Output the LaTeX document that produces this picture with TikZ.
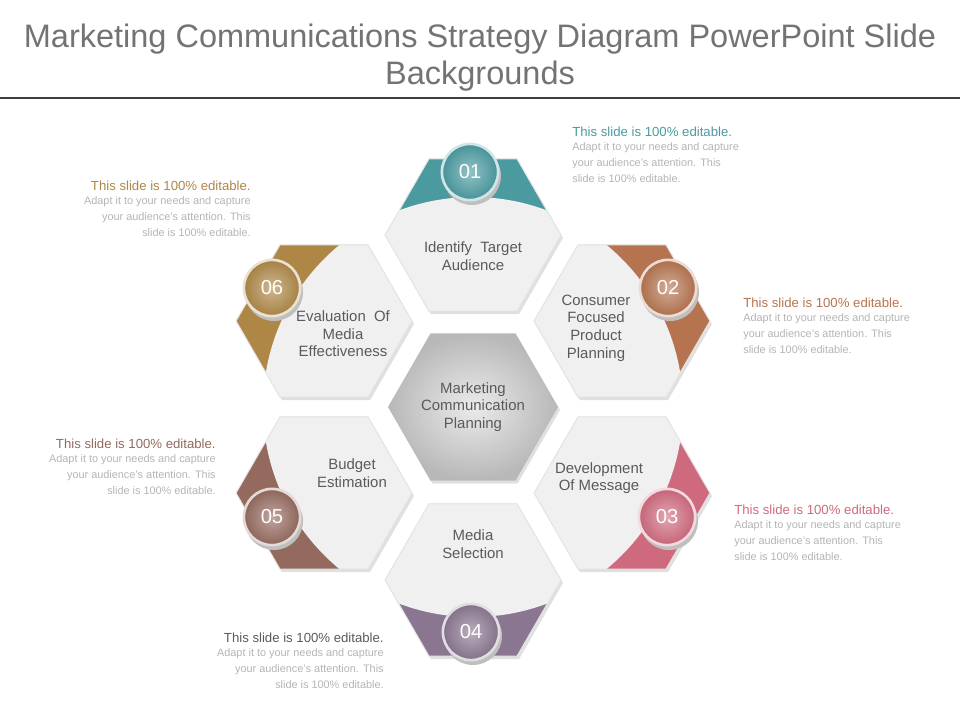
\documentclass[tikz,border=0pt]{standalone}
\usepackage{fontspec}
\setmainfont{Liberation Sans}
\usetikzlibrary{positioning}
\definecolor{cteal}{HTML}{4A9AA0}
\definecolor{cbrown}{HTML}{B5744F}
\definecolor{cpink}{HTML}{CF6A7E}
\definecolor{cplum}{HTML}{8A7690}
\definecolor{crose}{HTML}{946A5E}
\definecolor{cgold}{HTML}{AE8746}
\definecolor{ctext}{HTML}{5A5A5A}
\definecolor{cbody}{HTML}{B4B4B4}
\definecolor{cpale}{HTML}{F0F0F0}
\tikzset{
  lbl/.style={text=ctext, font=\fontsize{8.5}{10}\selectfont, align=center},
  badge/.style={circle, minimum size=32pt, inner sep=0pt, draw=white!75!#1, line width=1.5pt,
    inner color=#1!60, outer color=#1!95!black, text=white, font=\fontsize{11.5}{12}\selectfont},
  cap/.style={font=\fontsize{7.5}{9}\selectfont, text=#1, inner sep=0pt},
  body/.style={font=\fontsize{6.2}{9}\selectfont, text=cbody, inner sep=0pt}
}
\newcommand{\hexpath}[2]{(#1)++(0:#2)--++(120:#2)--++(180:#2)--++(240:#2)--++(300:#2)--++(0:#2)--cycle}
\begin{document}
\begin{tikzpicture}[x=0.02cm,y=-0.02cm]
\useasboundingbox (0,0) rectangle (960,720);
% title
\node[text=ctext!85, font=\fontsize{18.5}{21}\selectfont, align=center] (title) at (480,58)
  {Marketing Communications Strategy Diagram PowerPoint Slide\\Backgrounds};
\draw[black!75, line width=1.2pt] (0,98) -- (960,98);
\coordinate (mid) at (473,407);
% outer hexagons
\foreach \n/\x/\y/\c in {h1/473/235/cteal, h2/622/321/cbrown, h3/622/493/cpink,
    h4/473/580/cplum, h5/324/493/crose, h6/324/321/cgold}{
  \coordinate (\n) at (\x,\y);
  \fill[black!12] \hexpath{\x+2,\y+3}{88};
  \fill[\c] \hexpath{\n}{88};
  \begin{scope}
    \clip \hexpath{\n}{88};
    \fill[cpale] (mid) circle (210);
  \end{scope}
  \draw[black!10, line width=0.6pt] \hexpath{\n}{88};
}
% centre hexagon
\fill[black!12] \hexpath{475,410}{85};
\shade[inner color=black!8, outer color=black!28] \hexpath{mid}{85};
\node[lbl] (c0) at (mid) {Marketing\\Communication\\Planning};
% labels
\node[lbl] (t1) at (473,256) {Identify\ \ Target\\Audience};
\node[lbl] (t2) at (596,328) {Consumer\\Focused\\Product\\Planning};
\node[lbl] (t3) at (599,478) {Development\\Of Message};
\node[lbl] (t4) at (473,544) {Media\\Selection};
\node[lbl] (t5) at (352,473) {Budget\\Estimation};
\node[lbl] (t6) at (343,334) {Evaluation\ \ Of\\Media\\Effectiveness};
% badges
\foreach \n/\x/\y/\c in {01/470/172/cteal, 02/668/288/cbrown, 03/667/517/cpink,
    04/471/632/cplum, 05/272/517/crose, 06/272/288/cgold}{
  \fill[black!25] (\x+2,\y+4) circle (29);
  \node[badge=\c] (b\n) at (\x,\y) {\n};
}
% callouts
\node[cap=cteal, anchor=north west] (k1) at (572,127) {This slide is 100\% editable.};
\node[body, anchor=north west, align=left, below=3pt of k1.south west, anchor=north west] (d1)
  {Adapt it to your needs and capture\\your audience's attention. This\\slide is 100\% editable.};
\node[cap=cbrown, anchor=north west] (k2) at (743,298) {This slide is 100\% editable.};
\node[body, align=left, below=3pt of k2.south west, anchor=north west] (d2)
  {Adapt it to your needs and capture\\your audience's attention. This\\slide is 100\% editable.};
\node[cap=cpink, anchor=north west] (k3) at (734,505) {This slide is 100\% editable.};
\node[body, align=left, below=3pt of k3.south west, anchor=north west] (d3)
  {Adapt it to your needs and capture\\your audience's attention. This\\slide is 100\% editable.};
\node[cap=ctext, anchor=north east] (k4) at (384,633) {This slide is 100\% editable.};
\node[body, align=right, below=3pt of k4.south east, anchor=north east] (d4)
  {Adapt it to your needs and capture\\your audience's attention. This\\slide is 100\% editable.};
\node[cap=crose, anchor=north east] (k5) at (216,439) {This slide is 100\% editable.};
\node[body, align=right, below=3pt of k5.south east, anchor=north east] (d5)
  {Adapt it to your needs and capture\\your audience's attention. This\\slide is 100\% editable.};
\node[cap=cgold, anchor=north east] (k6) at (251,181) {This slide is 100\% editable.};
\node[body, align=right, below=3pt of k6.south east, anchor=north east] (d6)
  {Adapt it to your needs and capture\\your audience's attention. This\\slide is 100\% editable.};
\end{tikzpicture}
\end{document}
